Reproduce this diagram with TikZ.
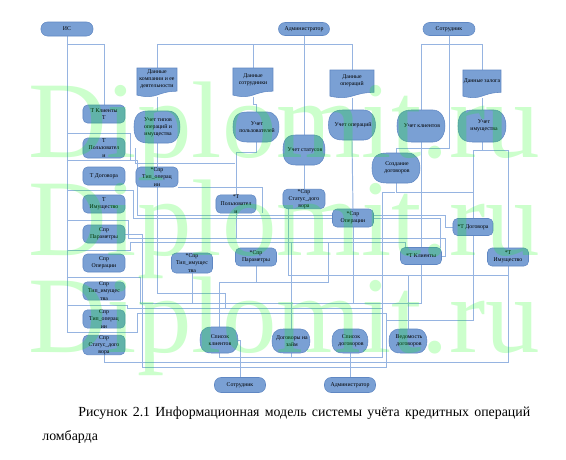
\documentclass[tikz,border=0pt]{standalone}
\usepackage{fontspec}
\setmainfont{Liberation Serif}
\definecolor{nfill}{RGB}{122,160,212}
\definecolor{ndraw}{RGB}{95,135,195}
\definecolor{lnc}{RGB}{150,180,225}
\definecolor{wmc}{RGB}{0,255,0}
\tikzset{
  every node/.style={font=\fontsize{3.3}{4.1}\selectfont, align=center, inner sep=0pt},
  sz/.style 2 args={minimum width={#1*0.02cm}, minimum height={#2*0.02cm}},
  term/.style={draw=ndraw, fill=nfill, line width=0.3pt, rounded corners=0.13cm},
  tab/.style={draw=ndraw, fill=nfill, line width=0.3pt, rounded corners=0.09cm},
  shp/.style={draw=ndraw, fill=nfill, line width=0.3pt},
  ln/.style={draw=lnc, line width=0.55pt},
  wmark/.style={text=wmc, text opacity=0.2, font=\fontsize{62}{62}\selectfont, anchor=base west},
}
\newcommand\dispshape[4]{%
  \pgfmathsetmacro\sXl{#1-#3/2}%
  \pgfmathsetmacro\sYt{#2-#4/2}%
  \pgfmathsetmacro\sYb{#2+#4/2}%
  \pgfmathsetmacro\sXa{#1-#3/2+0.3*#3}%
  \pgfmathsetmacro\sXb{#1+#3/2-0.25*#3}%
  \pgfmathsetmacro\sXc{#1+#3/2+#3/12}%
  \pgfmathsetmacro\sXd{#1-#3/2+0.06*#3}%
  \pgfmathsetmacro\sYu{#2-0.28*#4}%
  \pgfmathsetmacro\sYd{#2+0.28*#4}%
  \draw[shp] (\sXa,\sYt) -- (\sXb,\sYt) .. controls (\sXc,\sYt) and (\sXc,\sYb) .. (\sXb,\sYb)
    -- (\sXa,\sYb) .. controls (\sXd,\sYb) and (\sXl,\sYd) .. (\sXl,#2)
    .. controls (\sXl,\sYu) and (\sXd,\sYt) .. (\sXa,\sYt) -- cycle;}
\newcommand\docshape[4]{%
  \pgfmathsetmacro\sXl{#1-#3/2}%
  \pgfmathsetmacro\sXr{#1+#3/2}%
  \pgfmathsetmacro\sYt{#2-#4/2}%
  \pgfmathsetmacro\sYa{#2-#4/2+0.8*#4}%
  \pgfmathsetmacro\sYb{#2-#4/2+0.934*#4}%
  \pgfmathsetmacro\sYc{#2-#4/2+1.11*#4}%
  \draw[shp] (\sXl,\sYt) -- (\sXr,\sYt) -- (\sXr,\sYa) .. controls (#1,\sYa) and (#1,\sYc) .. (\sXl,\sYb) -- cycle;}
\begin{document}
\begin{tikzpicture}[x=0.02cm,y=-0.02cm]
\fill[white] (0,0) rectangle (566,460);
\path[use as bounding box] (0,0) rectangle (566,460);

% ---------- invisible anchor nodes for custom shapes (named) ----------
\node[sz={40}{29}] (dk) at (157,82.5) {};
\node[sz={40}{29}] (dsot) at (253,82.5) {};
\node[sz={44}{28}] (dop) at (352,84) {};
\node[sz={38}{28}] (dz) at (482,84) {};
\node[sz={46}{32}] (ut) at (157,127) {};
\node[sz={46}{30}] (up) at (256,127) {};
\node[sz={42}{30}] (ust) at (304,150) {};
\node[sz={47}{30}] (uo) at (352,125) {};
\node[sz={48}{32}] (uk) at (421,126) {};
\node[sz={48}{32}] (ui) at (482,126) {};
\node[sz={48}{30}] (sd) at (396,168) {};
\node[sz={38}{26}] (sk) at (219,340) {};
\node[sz={38}{24}] (dzm) at (291,341) {};
\node[sz={36}{24}] (sdog) at (350,341) {};
\node[sz={38}{24}] (ved) at (408,341) {};

% ---------- connectors ----------
\draw[ln] (67,36) -- (67,332);
\draw[ln] (67,44) -| (104,105);
\draw[ln] (304,36) -- (ust.north);
\draw[ln] (dk.north) |- (304,44);
\draw[ln] (dop.north) |- (304,44);
\draw[ln] (dsot.north) -- (253,44);
\draw[ln] (449,35) -- (449,148) -| (sd.north);
\draw[ln] (uk.north) |- (449,44);
\draw[ln] (dz.north) |- (449,44);
\draw[ln] (dk.south) -- (ut.north);
\draw[ln] (dsot.south) -- (253,104) -- (256,104) -- (up.north);
\draw[ln] (dop.south) -- (uo.north);
\draw[ln] (dz.south) -- (ui.north);
\draw[ln] (ut.south) -- (157,167);
\draw[ln] (up.south) -- (256,152) -| (236,195);
\draw[ln] (ust.south) -- (304,190);
\draw[ln] (uo.south) -- (353,209);
\draw[ln] (uk.south) -- (421,247.5);
\draw[ln] (ui.south) -- (482,150);
\draw[ln] (473,150) -- (508,150);
\draw[ln] (473,150) -- (473,218.5);
\draw[ln] (508,150) -- (508,248);
\draw[ln] (sd.south) |- (473,192);
% left bus stubs
\draw[ln] (67,133) -- (130,133) -- (130,160);
\draw[ln] (67,160) -- (137,160) -- (137,215) -- (445,215) |- (453,227);
\draw[ln] (67,190) -- (133,190) -- (133,218) -- (440,218) -- (440,247.5);
\draw[ln] (67,220) -- (128,220) -- (128,238) -- (445,238) |- (441.5,256);
\draw[ln] (67,250) -- (130,250) -- (130,242) -- (405,242) -- (405,247.5);
\draw[ln] (67,277) -- (140,277) -- (140,303) -- (408,303);
\draw[ln] (67,305) -- (127,305) -- (127,308) -- (382,308) -- (382,192) -- (395,192);
\draw[ln] (67,332) -- (137,332) -- (137,313) -- (386,313) -- (386,320) -- (408,320);
\draw[ln] (508,266) -- (508,275) -- (288,275) -- (288,208);
\draw[ln] (408,275) -- (ved.north);
\draw[ln] (473,235.5) -- (473,320) -- (408,320);
\draw[ln] (421,264.5) -- (421,303) -- (408,303);
\draw[ln] (353,227) -- (353,303);
\draw[ln] (256,266) -- (256,282);
\draw[ln] (sk.north) |- (328,282) -- (328,242);
\draw[ln] (157,187) -- (157,293) -- (225,293) -- (225,308);
\draw[ln] (192,273) -- (192,303);
\draw[ln] (236,213) -- (236,238);
\draw[ln] (dzm.north) -- (291,242);
\draw[ln] (dzm.south) -- (291,358);
\draw[ln] (104,353) -- (104,362) -- (508,362) -- (508,266);
\draw[ln] (sk.east) -| (240,377.5);
\draw[ln] (sk.south) |- (382,357) -- (382,308);
\draw[ln] (125,234) -- (142,234) -- (142,367) -- (386,367) -- (386,320);
\draw[ln] (sdog.south) -- (350,377.5);
\draw[ln] (135,148) -- (135,163) -- (235,163);
\draw[ln] (178,187) -- (262,187) -- (262,213);

% ---------- shapes ----------
\docshape{157}{82.5}{40}{29}
\docshape{253}{82.5}{40}{29}
\docshape{352}{84}{44}{28}
\docshape{482}{84}{38}{28}
\dispshape{157}{127}{46}{32}
\dispshape{256}{127}{46}{30}
\dispshape{304}{150}{42}{30}
\dispshape{352}{125}{47}{30}
\dispshape{421}{126}{48}{32}
\dispshape{482}{126}{48}{32}
\dispshape{396}{168}{48}{30}
\dispshape{219}{340}{38}{26}
\dispshape{291}{341}{38}{24}
\dispshape{350}{341}{36}{24}
\dispshape{408}{341}{38}{24}

% ---------- texts of custom shapes ----------
\node (tdk) at (157,79) {Данные\\компании и ее\\деятельности};
\node (tdsot) at (253,80) {Данные\\сотрудники};
\node (tdop) at (352,81) {Данные\\операций};
\node (tdz) at (482,81) {Данные залога};
\node (tut) at (158,127) {Учет типов\\операций и\\имущества};
\node (tup) at (257,127) {Учет\\пользователей};
\node (tust) at (305,150) {Учет статусов};
\node (tuo) at (353,125) {Учет операций};
\node (tuk) at (422,126) {Учет клиентов};
\node (tui) at (484,126) {Учет\\имущества};
\node (tsd) at (397,168) {Создание\\договоров};
\node (tsk) at (220,340) {Список\\клиентов};
\node (tdzm) at (292,341) {Договоры на\\займ};
\node (tsdog) at (351,341) {Список\\договоров};
\node (tved) at (409,341) {Ведомость\\договоров};

% ---------- terminators ----------
\node[term, sz={52}{14}] (is) at (67,29) {ИС};
\node[term, sz={51}{13}] (adm) at (304,29) {Администратор};
\node[term, sz={52}{13}] (sotr) at (449,29) {Сотрудник};
\node[term, sz={51}{15}] (sotr2) at (240,385) {Сотрудник};
\node[term, sz={51}{15}] (adm2) at (350,385) {Администратор};

% ---------- tables ----------
\node[tab, sz={42}{18}] (tk) at (104,114) {Т Клиенты\\Т};
\node[tab, sz={42}{20}] (tp) at (104,148) {Т\\Пользовател\\и};
\node[tab, sz={42}{18}] (td) at (104,176) {Т Договора};
\node[tab, sz={42}{18}] (ti) at (104,204) {Т\\Имущество};
\node[tab, sz={42}{18}] (sp) at (104,234) {Спр\\Параметры};
\node[tab, sz={42}{18}] (so) at (104,263) {Спр\\Операции};
\node[tab, sz={42}{18}] (sti) at (104,291) {Спр\\Тип\_имущес\\тва};
\node[tab, sz={42}{18}] (sto) at (104,319) {Спр\\Тип\_операц\\ии};
\node[tab, sz={42}{17}] (ssd) at (104,345) {Спр\\Статус\_дого\\вора};
\node[tab, sz={42}{20}] (xsto) at (157,177) {*Спр\\Тип\_операц\\ии};
\node[tab, sz={40}{18}] (xtp) at (236,204) {*Т\\Пользовател\\и};
\node[tab, sz={42}{18}] (xssd) at (304,199) {*Спр\\Статус\_дого\\вора};
\node[tab, sz={41}{18}] (xso) at (353,218) {*Спр\\Операции};
\node[tab, sz={40}{17}] (xtd) at (473,227) {*Т Договора};
\node[tab, sz={41}{17}] (xtk) at (421,256) {*Т Клиенты};
\node[tab, sz={41}{18}] (xti) at (508,257) {*Т\\Имущество};
\node[tab, sz={41}{20}] (xsti) at (192,263) {*Спр\\Тип\_имущес\\тва};
\node[tab, sz={41}{18}] (xsp) at (256,257) {*Спр\\Параметры};

% ---------- watermark ----------
\node[wmark] (wm1) at (28,157) {Diplomit.ru};
\node[wmark] (wm2) at (28,255) {Diplomit.ru};
\node[wmark] (wm3) at (28,352) {Diplomit.ru};

% ---------- caption ----------
\node[anchor=base west, font=\fontsize{7.9}{9.5}\selectfont] (cap1) at (78,416)
  {\makebox[9.04cm][s]{Рисунок 2.1 Информационная модель системы учёта кредитных операций}};
\node[anchor=base west, font=\fontsize{7.9}{9.5}\selectfont] (cap2) at (42,440) {ломбарда};
\end{tikzpicture}
\end{document}
